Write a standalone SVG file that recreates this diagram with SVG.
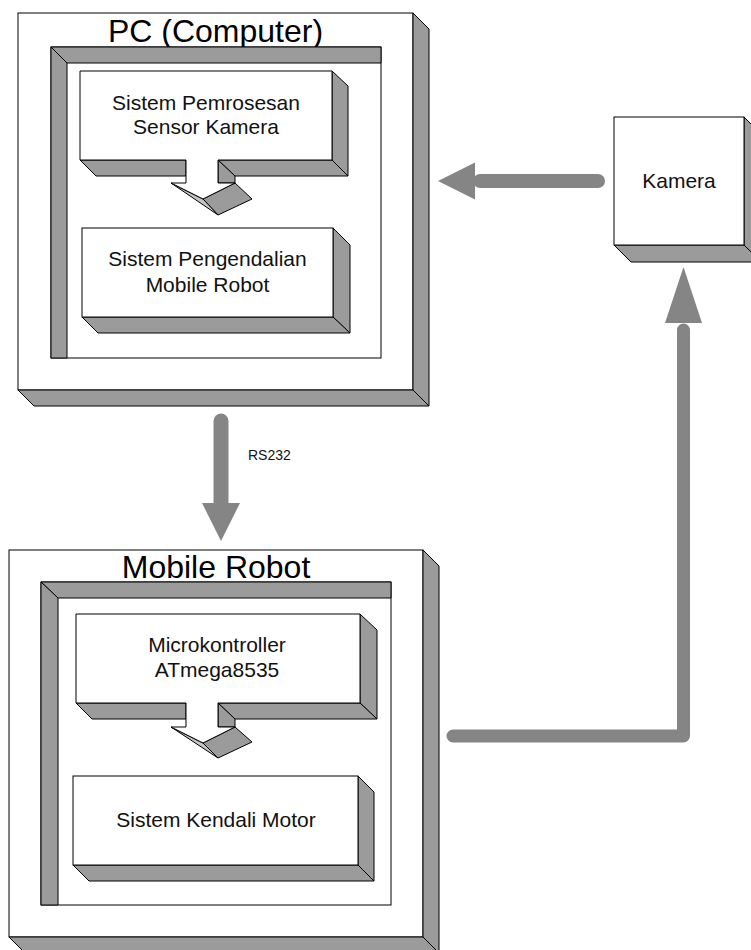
<svg xmlns="http://www.w3.org/2000/svg" width="751" height="950" viewBox="0 0 751 950">
<style>
.front{fill:#ffffff;stroke:#000;stroke-width:1}
.side{fill:#9b9b9b;stroke:#000;stroke-width:1;stroke-linejoin:miter}
.light{fill:#c4c4c4;stroke:#000;stroke-width:1}
.title{font-family:"Liberation Sans",Arial,sans-serif;font-size:32px;fill:#000;text-anchor:middle}
.lbl{font-family:"Liberation Sans",Arial,sans-serif;font-size:21px;fill:#111;text-anchor:middle}
.small{font-family:"Liberation Sans",Arial,sans-serif;font-size:14px;fill:#111}
.shaft{fill:none;stroke:#858585;stroke-linecap:round}
.head{fill:#858585;stroke:none}
</style>
<rect width="751" height="950" fill="#ffffff"/>

<g id="pc">
  <rect class="front" x="18" y="13" width="395" height="377"/>
  <polygon class="side" points="413,13 429,29 429,406 413,390"/>
  <polygon class="side" points="18,390 413,390 429,406 34,406"/>
  <text class="title" x="215.5" y="42">PC (Computer)</text>
  <g id="pc-frame">
    <rect class="front" x="51" y="47" width="330" height="311"/>
    <polygon class="side" points="51,47 381,47 381,63 67,63"/>
    <polygon class="side" points="51,47 67,63 67,358 51,358"/>
  </g>
</g>

<g id="pemrosesan">
  <polygon class="side" points="332,71 348,86 348,176 332,160"/>
  <polygon class="side" points="80,160 186,160 186,176 96,176"/>
  <polygon class="side" points="218,160 332,160 348,176 235,176"/>
  <polygon class="side" points="218,160 235,176 235,183 218,183"/>
  <polygon class="side" points="203,199 235,183 252,199 218,215"/>
  <polygon class="light" points="171,183 203,199 218,215"/>
  <polygon class="front" points="80,71 332,71 332,160 218,160 218,183 235,183 203,199 171,183 186,183 186,160 80,160"/>
  <text class="lbl" x="206" y="110">Sistem Pemrosesan</text>
  <text class="lbl" x="206" y="134">Sensor Kamera</text>
</g>

<g id="pengendalian">
  <polygon class="side" points="333,228 350,245 350,333 333,317"/>
  <polygon class="side" points="82,317 333,317 350,333 98,333"/>
  <rect class="front" x="82" y="228" width="251" height="89"/>
  <text class="lbl" x="207.5" y="266">Sistem Pengendalian</text>
  <text class="lbl" x="207.5" y="292">Mobile Robot</text>
</g>

<g id="kamera">
  <polygon class="side" points="744,117 761,134 761,262 744,245"/>
  <polygon class="side" points="614,245 744,245 761,262 631,262"/>
  <rect class="front" x="614" y="117" width="130" height="128"/>
  <text class="lbl" x="679" y="188">Kamera</text>
</g>

<g id="mobile-robot">
  <rect class="front" x="9" y="550" width="414" height="387"/>
  <polygon class="side" points="423,550 439,566 439,953 423,937"/>
  <polygon class="side" points="9,937 423,937 439,953 25,953"/>
  <text class="title" x="216" y="578">Mobile Robot</text>
  <g id="mr-frame">
    <rect class="front" x="41" y="582" width="350" height="323"/>
    <polygon class="side" points="41,582 391,582 391,598 58,598"/>
    <polygon class="side" points="41,582 58,598 58,905 41,905"/>
  </g>
</g>

<g id="microkontroller">
  <polygon class="side" points="360,614 377,630 377,719 360,703"/>
  <polygon class="side" points="76,703 186,703 186,719 92,719"/>
  <polygon class="side" points="218,703 360,703 377,719 235,719"/>
  <polygon class="side" points="218,703 235,719 235,727 218,727"/>
  <polygon class="side" points="203,743 235,727 252,742 218,758"/>
  <polygon class="light" points="171,727 203,743 218,758"/>
  <polygon class="front" points="76,614 360,614 360,703 218,703 218,727 235,727 203,743 171,727 186,727 186,703 76,703"/>
  <text class="lbl" x="217" y="652">Microkontroller</text>
  <text class="lbl" x="217" y="677">ATmega8535</text>
</g>

<g id="kendali-motor">
  <polygon class="side" points="358,776 374,792 374,881 358,865"/>
  <polygon class="side" points="73,865 358,865 374,881 89,881"/>
  <rect class="front" x="73" y="776" width="285" height="89"/>
  <text class="lbl" x="216" y="827">Sistem Kendali Motor</text>
</g>

<g id="connectors">
  <g id="kamera-to-pc">
    <line class="shaft" x1="598" y1="181" x2="480" y2="181" stroke-width="14"/>
    <polygon class="head" points="475,162.5 438,181 475,199.5"/>
  </g>
  <g id="pc-to-robot">
    <line class="shaft" x1="221" y1="421" x2="221" y2="508" stroke-width="15"/>
    <polygon class="head" points="202,503 240,503 221,541"/>
    <text class="small" x="248" y="460">RS232</text>
  </g>
  <g id="robot-to-kamera">
    <path class="shaft" d="M453,736 H683.5 V330" stroke-width="13" stroke-linejoin="round"/>
    <polygon class="head" points="665,323 702,323 683.5,267"/>
  </g>
</g>
</svg>
